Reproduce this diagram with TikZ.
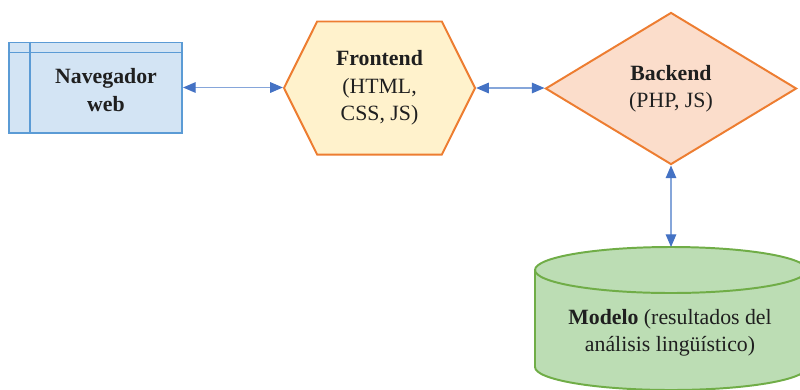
\documentclass[tikz,border=0pt]{standalone}
\usepackage{fontspec}
\setmainfont{Liberation Serif}
\usetikzlibrary{arrows.meta, positioning, shapes.geometric, shapes.symbols}

\definecolor{navfill}{HTML}{D3E4F4}
\definecolor{navdraw}{HTML}{5B9BD5}
\definecolor{frontfill}{HTML}{FFF2CC}
\definecolor{backfill}{HTML}{FBDDCB}
\definecolor{orangeline}{HTML}{ED7D31}
\definecolor{modfill}{HTML}{BCDDB4}
\definecolor{moddraw}{HTML}{70AD47}
\definecolor{tipblue}{HTML}{4472C4}
\definecolor{linkblue}{HTML}{86A6DA}

\begin{document}
\begin{tikzpicture}[x=0.025cm, y=-0.025cm,
        lbl/.style={font=\fontsize{15.5}{19.5}\selectfont, align=center, text=black!88},
        navbox/.style={draw=navdraw, fill=navfill, line width=1.4pt, inner sep=0pt,
                       minimum width=4.325cm, minimum height=2.25cm},
        frontbox/.style={signal, signal to=west and east, signal pointer angle=127,
                         draw=orangeline, fill=frontfill, line width=1.4pt, inner sep=0pt,
                         minimum width=4.775cm, minimum height=3.325cm},
        backbox/.style={diamond, aspect=1.65, draw=orangeline, fill=backfill,
                        line width=1.4pt, inner sep=0pt,
                        minimum width=6.275cm, minimum height=3.8cm},
        link/.style={{Triangle[length=9pt, width=7.5pt, color=tipblue]}-{Triangle[length=9pt, width=7.5pt, color=tipblue]},
                     draw=linkblue, line width=0.9pt},
    ]
    \useasboundingbox (0,0) rectangle (800,389);
    \clip (0,0) rectangle (800,389);

    % ---- browser window ----
    \node[navbox] (nav) at (95.5,87.5) {};
    \draw[navdraw, line width=1.4pt] ([yshift=-0.275cm]nav.north west) -- ([yshift=-0.275cm]nav.north east);
    \draw[navdraw, line width=1.4pt] ([xshift=0.55cm]nav.north west) -- ([xshift=0.55cm]nav.south west);
    \node[lbl, font=\fontsize{15.5}{19.5}\selectfont\bfseries] (navtxt) at (106,90) {Navegador\\web};

    % ---- frontend and backend ----
    \node[frontbox, lbl] (front) at (379.5,88) {\textbf{Frontend}\\(HTML,\\CSS, JS)};
    \node[backbox, lbl] (back) at (671,88.5) {\textbf{Backend}\\(PHP, JS)};

    % ---- model store (cylinder) ----
    \coordinate (modtop) at (671,247);
    \draw[draw=moddraw, fill=modfill, line width=1.4pt]
        (535,270) -- (535,367) arc[start angle=180, end angle=0, x radius=136, y radius=23]
        -- (807,270) arc[start angle=0, end angle=-180, x radius=136, y radius=23] -- cycle;
    \draw[draw=moddraw, line width=1.4pt]
        (535,270) arc[start angle=180, end angle=0, x radius=136, y radius=23];
    \node[lbl] (modelo) at (670,332.5) {\textbf{Modelo} (resultados del\\análisis lingüístico)};

    % ---- links ----
    \draw[link] (nav.east) -- (nav.east -| front.west);
    \draw[link] (front.east) -- (front.east -| back.west);
    \draw[link] (back.south) -- (modtop);
\end{tikzpicture}
\end{document}
